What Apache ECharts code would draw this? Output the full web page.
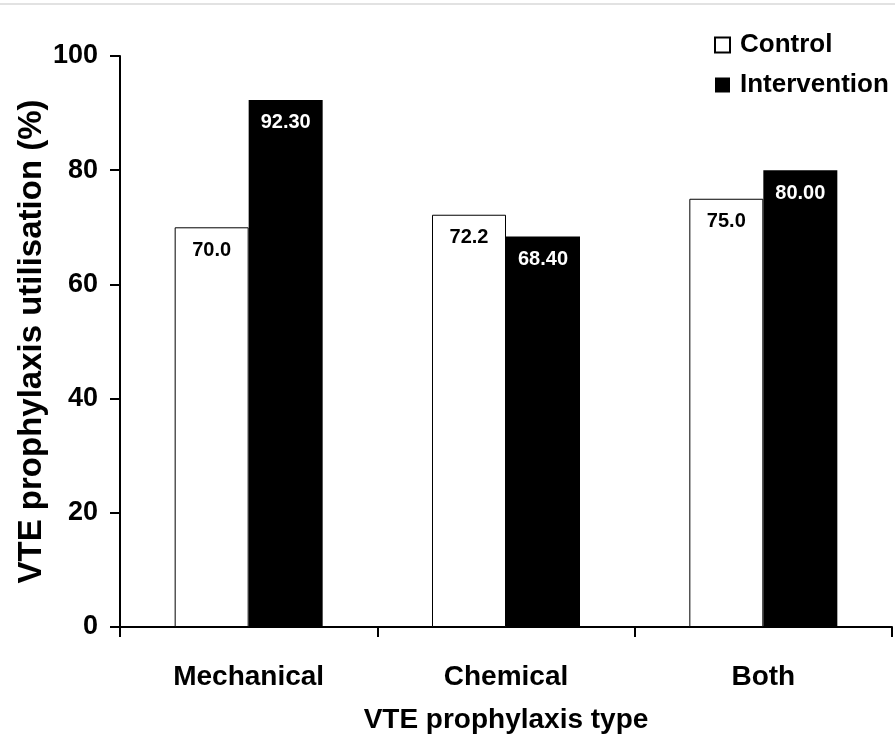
<!DOCTYPE html>
<html>
<head>
<meta charset="utf-8">
<title>VTE prophylaxis utilisation</title>
<script src="https://cdn.jsdelivr.net/npm/echarts@6/dist/echarts.min.js"></script>
<style>
  html, body { margin: 0; padding: 0; background: #fff; }
  #chart { width: 895px; height: 734px; }
</style>
</head>
<body>
<div id="chart"></div>
<script>
// Prophylaxis types and utilisation (%) per study arm
const categories = ['Mechanical', 'Chemical', 'Both'];
const controlValues = [70.0, 72.2, 75.0];
const interventionValues = [92.30, 68.40, 80.00];
const yTicks = { min: 0, max: 100, interval: 20 };

const FONT = '"Liberation Sans", Arial, sans-serif';

const chart = echarts.init(document.getElementById('chart'), null, { renderer: 'canvas' });

chart.setOption({
  animation: false,
  backgroundColor: '#ffffff',
  graphic: [{
    type: 'line',
    shape: { x1: 0, y1: 4, x2: 895, y2: 4 },
    style: { stroke: '#e2e2e2', lineWidth: 2 }
  }],
  legend: {
    orient: 'vertical',
    left: 709,
    top: 27,
    itemWidth: 15,
    itemHeight: 15,
    itemGap: 14,
    icon: 'rect',
    textStyle: { fontFamily: FONT, fontWeight: 'bold', fontSize: 26, color: '#000', lineHeight: 26, padding: [0, 0, 0, 5] },
    data: ['Control', 'Intervention']
  },
  grid: { left: 120, right: 3, top: 56, bottom: 107, containLabel: false, outerBoundsMode: 'none' },
  xAxis: {
    type: 'category',
    data: categories,
    name: 'VTE prophylaxis type',
    nameLocation: 'middle',
    nameGap: 79,
    nameMoveOverlap: false,
    nameTextStyle: { fontFamily: FONT, fontWeight: 'bold', fontSize: 28, color: '#000' },
    axisLine: { lineStyle: { color: '#000', width: 2 } },
    axisTick: { show: true, length: 10, lineStyle: { color: '#000', width: 2 } },
    axisLabel: { margin: 36, fontFamily: FONT, fontWeight: 'bold', fontSize: 28, color: '#000' }
  },
  yAxis: {
    type: 'value',
    min: yTicks.min,
    max: yTicks.max,
    interval: yTicks.interval,
    name: 'VTE prophylaxis utilisation (%)',
    nameLocation: 'middle',
    nameGap: 72,
    nameMoveOverlap: false,
    nameTextStyle: { fontFamily: FONT, fontWeight: 'bold', fontSize: 33, color: '#000' },
    axisLine: { show: true, lineStyle: { color: '#000', width: 2 } },
    axisTick: { show: true, length: 10, lineStyle: { color: '#000', width: 2 } },
    splitLine: { show: false },
    axisLabel: { margin: 22, fontFamily: FONT, fontWeight: 'bold', fontSize: 27, color: '#000' }
  },
  series: [
    {
      name: 'Control',
      type: 'bar',
      data: controlValues,
      barWidth: 74,
      barGap: 0,
      itemStyle: { color: '#ffffff', borderColor: '#000', borderWidth: 1 },
      label: {
        show: true,
        position: 'insideTop',
        distance: 13,
        formatter: p => p.value.toFixed(1),
        fontFamily: FONT, fontWeight: 'bold', fontSize: 20, color: '#000'
      }
    },
    {
      name: 'Intervention',
      type: 'bar',
      data: interventionValues,
      barWidth: 74,
      barGap: 0,
      itemStyle: { color: '#000000' },
      label: {
        show: true,
        position: 'insideTop',
        distance: 13,
        formatter: p => p.value.toFixed(2),
        fontFamily: FONT, fontWeight: 'bold', fontSize: 20, color: '#fff'
      }
    }
  ]
});
</script>
</body>
</html>
